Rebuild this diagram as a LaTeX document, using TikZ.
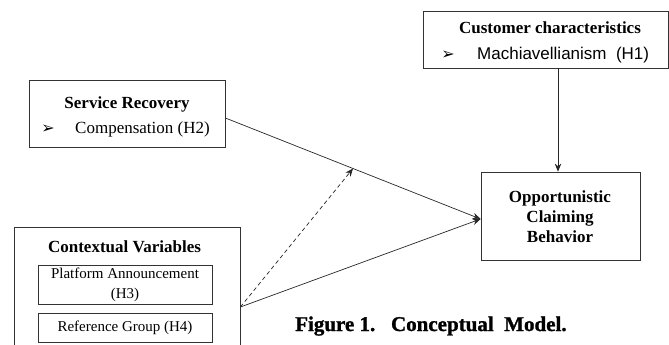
\documentclass[tikz,border=0pt]{standalone}
\usepackage{fontspec}
\setmainfont{Liberation Serif}
\newfontfamily\arialf{Liberation Sans}
\newfontfamily\dejavuf{DejaVu Sans}
\newfontfamily\capf{Liberation Serif Bold}[FakeBold=1.2]
\usetikzlibrary{arrows.meta,calc}
\tikzset{
  box/.style={draw=black!80, line width=0.8bp, inner sep=0pt, minimum width=#1},
  ttl/.style={anchor=base, font=\fontsize{17bp}{20bp}\selectfont\bfseries, inner sep=0pt},
  txt/.style={anchor=base, font=\fontsize{17bp}{20bp}\selectfont, inner sep=0pt},
  small/.style={anchor=base, font=\fontsize{15bp}{18bp}\selectfont, inner sep=0pt},
  bul/.style={anchor=base, font=\dejavuf\fontsize{16bp}{18bp}\selectfont, inner sep=0pt},
  conn/.style={draw=black!85, line width=0.7bp},
  arr/.style={conn, -{Stealth[length=8bp,width=6.5bp]}},
  dsh/.style={arr, dash pattern=on 4bp off 3bp}
}
\begin{document}
\begin{tikzpicture}[x=1bp,y=-1bp]
\clip (0,0) rectangle (669,344);
% boxes
\node[box=245bp, minimum height=57bp] (cust) at (545.5,39.5) {};
\node[box=196bp, minimum height=67bp] (sr) at (127,113.5) {};
\node[box=159bp, minimum height=88bp] (opp) at (560.5,216) {};
\node[box=226bp, minimum height=140bp] (ctx) at (127,297) {};
\node[box=174bp, minimum height=39bp] (pa) at (125,284.5) {};
\node[box=174bp, minimum height=29bp] (rg) at (125,327.5) {};
% texts
\node[ttl] (custt) at (550,33) {Customer characteristics};
\node[bul] (custb) at (448,59) {➢};
\node[txt, anchor=base west] (custh) at (477,59) {\arialf Machiavellianism\ \ (H1)};
\node[ttl] (srt) at (127,108) {Service Recovery};
\node[bul] (srb) at (48,133) {➢};
\node[txt, anchor=base west] (srh) at (75,133) {Compensation (H2)};
\node[ttl] (ctxt) at (124.5,252) {Contextual Variables};
\node[small] (pat1) at (125,278) {Platform Announcement};
\node[small] (pat2) at (125,298) {(H3)};
\node[small] (rgt) at (125,331) {Reference Group (H4)};
\node[ttl] (o1) at (560,202) {Opportunistic};
\node[ttl] (o2) at (560,222) {Claiming};
\node[ttl] (o3) at (560,242) {Behavior};
\node[anchor=base west, inner sep=0pt, font=\capf\fontsize{21bp}{24bp}\selectfont] (cap) at (295,331) {Figure 1.\ \ \ Conceptual\ \ Model.};
% connectors
\coordinate (srp) at ([yshift=-4.5bp]sr.east);
\coordinate (oppp) at ([yshift=-3bp]opp.west);
\coordinate (ctxp) at ([yshift=-10bp]ctx.east);
\coordinate (mid) at ($(srp)!0.5!(oppp)$);
\draw[arr] (srp) -- (oppp);
\draw[arr] (ctxp) -- (oppp);
\draw[dsh] (ctxp) -- (mid);
\draw[arr] ([xshift=12.5bp]cust.south) -- ([xshift=12.5bp]cust.south |- opp.north);
\end{tikzpicture}
\end{document}
